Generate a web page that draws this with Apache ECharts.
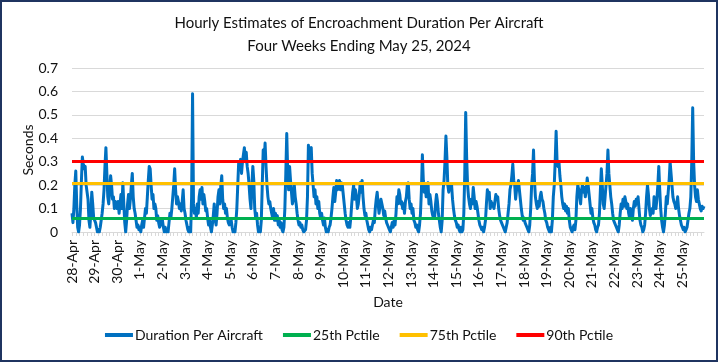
<!DOCTYPE html>
<html>
<head>
<meta charset="utf-8">
<script src="https://cdn.jsdelivr.net/npm/echarts@6/dist/echarts.min.js"></script>
<style>
  html, body { margin: 0; padding: 0; background: #fff; }
  #wrap { position: relative; width: 718px; height: 362px; }
  #chart { position: absolute; left: 0; top: 0; width: 718px; height: 362px; }
  #frame { position: absolute; left: 0; top: 0; width: 718px; height: 362px; box-sizing: border-box; border: 2px solid #1f3460; pointer-events: none; }
</style>
</head>
<body>
<div id="wrap"><div id="chart"></div><div id="frame"></div></div>
<script>
const titleLines = ['Hourly Estimates of Encroachment Duration Per Aircraft', 'Four Weeks Ending May 25, 2024'];
const days = ['28-Apr','29-Apr','30-Apr','1-May','2-May','3-May','4-May','5-May','6-May','7-May','8-May','9-May','10-May','11-May','12-May','13-May','14-May','15-May','16-May','17-May','18-May','19-May','20-May','21-May','22-May','23-May','24-May','25-May'];
const hoursOfDay = ['00','01','02','03','04','05','06','07','08','09','10','11','12','13','14','15','16','17','18','19','20','21','22','23'];
// hourly values, one line per day (hours 0-23)
const duration = [
  0.08,0.04,0.10,0.20,0.26,0.12,0.02,0.00,0.03,0.10,0.22,0.32,0.29,0.27,0.28,0.20,0.17,0.14,0.05,0.02,0.08,0.17,0.12,0.06,
  0.06,0.04,0.02,0.00,0.01,0.00,0.02,0.05,0.08,0.12,0.18,0.28,0.36,0.25,0.15,0.12,0.18,0.24,0.20,0.14,0.15,0.10,0.13,0.11,
  0.10,0.13,0.08,0.12,0.16,0.10,0.21,0.12,0.04,0.00,0.05,0.12,0.16,0.10,0.14,0.20,0.25,0.15,0.10,0.08,0.05,0.02,0.03,0.01,
  0.02,0.00,0.03,0.05,0.02,0.06,0.10,0.08,0.15,0.22,0.28,0.27,0.20,0.14,0.16,0.10,0.12,0.10,0.05,0.07,0.04,0.02,0.05,0.03,
  0.05,0.02,0.00,0.02,0.00,0.01,0.00,0.04,0.08,0.06,0.10,0.15,0.20,0.27,0.18,0.12,0.15,0.13,0.10,0.12,0.09,0.13,0.18,0.10,
  0.08,0.05,0.03,0.01,0.00,0.02,0.00,0.15,0.59,0.12,0.08,0.10,0.06,0.12,0.08,0.15,0.18,0.14,0.19,0.12,0.16,0.13,0.09,0.10,
  0.06,0.03,0.05,0.02,0.00,0.03,0.07,0.12,0.05,0.03,0.08,0.15,0.18,0.12,0.20,0.24,0.14,0.10,0.12,0.08,0.10,0.06,0.04,0.03,
  0.03,0.05,0.02,0.00,0.01,0.00,0.04,0.10,0.20,0.30,0.28,0.31,0.25,0.30,0.33,0.36,0.30,0.34,0.28,0.25,0.20,0.14,0.10,0.20,
  0.28,0.22,0.10,0.06,0.08,0.03,0.00,0.01,0.00,0.05,0.20,0.35,0.30,0.38,0.28,0.20,0.15,0.12,0.13,0.10,0.08,0.06,0.10,0.05,
  0.08,0.05,0.07,0.03,0.05,0.02,0.04,0.01,0.00,0.02,0.10,0.25,0.42,0.26,0.18,0.28,0.22,0.17,0.12,0.14,0.20,0.15,0.12,0.08,
  0.05,0.03,0.04,0.02,0.03,0.01,0.00,0.00,0.01,0.05,0.15,0.37,0.30,0.35,0.36,0.25,0.20,0.15,0.18,0.12,0.15,0.10,0.13,0.08,
  0.06,0.08,0.05,0.03,0.06,0.02,0.00,0.01,0.00,0.02,0.03,0.06,0.10,0.15,0.19,0.13,0.17,0.22,0.18,0.20,0.22,0.18,0.21,0.20,
  0.16,0.12,0.08,0.05,0.03,0.02,0.04,0.02,0.06,0.12,0.17,0.20,0.14,0.18,0.15,0.10,0.12,0.16,0.21,0.17,0.22,0.15,0.10,0.07,
  0.08,0.05,0.03,0.01,0.00,0.02,0.01,0.03,0.05,0.04,0.10,0.14,0.17,0.12,0.08,0.11,0.14,0.12,0.10,0.07,0.09,0.06,0.04,0.03,
  0.03,0.01,0.00,0.02,0.04,0.02,0.05,0.03,0.08,0.15,0.12,0.18,0.16,0.12,0.13,0.10,0.12,0.08,0.13,0.15,0.20,0.21,0.14,0.10,
  0.12,0.08,0.10,0.05,0.04,0.02,0.03,0.01,0.00,0.03,0.08,0.18,0.33,0.22,0.17,0.20,0.15,0.18,0.21,0.12,0.16,0.13,0.09,0.07,
  0.08,0.06,0.12,0.16,0.13,0.08,0.05,0.02,0.00,0.05,0.18,0.22,0.30,0.41,0.32,0.20,0.17,0.20,0.18,0.20,0.14,0.10,0.07,0.05,
  0.04,0.02,0.03,0.01,0.00,0.02,0.00,0.01,0.08,0.25,0.51,0.32,0.20,0.15,0.12,0.10,0.14,0.12,0.19,0.15,0.10,0.13,0.11,0.08,
  0.05,0.03,0.02,0.01,0.02,0.00,0.02,0.05,0.12,0.18,0.15,0.17,0.10,0.13,0.11,0.12,0.10,0.13,0.16,0.14,0.15,0.10,0.07,0.05,
  0.04,0.03,0.02,0.01,0.00,0.02,0.04,0.08,0.12,0.18,0.20,0.24,0.29,0.22,0.20,0.14,0.18,0.20,0.22,0.18,0.14,0.10,0.07,0.05,
  0.06,0.04,0.03,0.02,0.01,0.00,0.03,0.10,0.20,0.25,0.35,0.22,0.15,0.12,0.10,0.13,0.11,0.15,0.17,0.14,0.13,0.10,0.08,0.05,
  0.04,0.02,0.01,0.00,0.02,0.00,0.05,0.15,0.20,0.30,0.43,0.30,0.28,0.30,0.24,0.20,0.15,0.12,0.10,0.12,0.09,0.11,0.08,0.10,
  0.05,0.02,0.01,0.00,0.02,0.03,0.01,0.05,0.15,0.20,0.18,0.15,0.12,0.18,0.20,0.17,0.19,0.15,0.18,0.23,0.20,0.16,0.12,0.08,
  0.10,0.06,0.04,0.03,0.01,0.00,0.02,0.03,0.08,0.18,0.27,0.20,0.12,0.10,0.15,0.20,0.25,0.35,0.25,0.20,0.15,0.12,0.08,0.05,
  0.04,0.03,0.02,0.01,0.00,0.03,0.08,0.12,0.10,0.14,0.11,0.15,0.13,0.10,0.12,0.08,0.06,0.10,0.07,0.05,0.10,0.13,0.11,0.14,
  0.12,0.15,0.10,0.05,0.03,0.02,0.00,0.01,0.03,0.08,0.15,0.20,0.16,0.10,0.07,0.09,0.10,0.08,0.15,0.12,0.10,0.14,0.20,0.28,
  0.18,0.10,0.05,0.02,0.00,0.03,0.08,0.15,0.12,0.17,0.22,0.30,0.25,0.20,0.15,0.13,0.12,0.10,0.12,0.15,0.10,0.07,0.05,0.03,
  0.02,0.01,0.02,0.00,0.01,0.02,0.05,0.08,0.10,0.15,0.30,0.53,0.30,0.20,0.15,0.13,0.18,0.14,0.12,0.10,0.09,0.11,0.10,0.11
];
const pctile25 = 0.057;
const pctile75 = 0.212;
const pctile90 = 0.305;
const seriesNames = ['Duration Per Aircraft', '25th Pctile', '75th Pctile', '90th Pctile'];
const seriesColors = ['#0070C0', '#00B050', '#FFC000', '#FF0000'];
const yTicks = [0, 0.1, 0.2, 0.3, 0.4, 0.5, 0.6, 0.7];

const categories = [];
days.forEach(d => hoursOfDay.forEach(h => categories.push(d + ' ' + h + ':00')));

const FONT = 'Lato';
function pctSeries(i, v) {
  return {
    name: seriesNames[i], type: 'line', data: [], symbol: 'none',
    lineStyle: { color: seriesColors[i], width: 3 }, itemStyle: { color: seriesColors[i] },
    markLine: {
      silent: true, symbol: 'none', label: { show: false },
      lineStyle: { color: seriesColors[i], width: 3, type: 'solid' },
      data: [{ yAxis: v }]
    }
  };
}

const chart = echarts.init(document.getElementById('chart'), null, { renderer: 'canvas' });
chart.setOption({
  animation: false,
  backgroundColor: '#fff',
  title: {
    text: titleLines.join('\n'), left: 'center', top: 7,
    textStyle: { fontFamily: FONT, fontSize: 15, fontWeight: 'normal', color: '#111', lineHeight: 23 }
  },
  legend: {
    bottom: 15, left: 'center', itemWidth: 28, itemHeight: 4, itemGap: 20,
    icon: 'rect',
    textStyle: { fontFamily: FONT, fontSize: 14, color: '#111', padding: [0, 0, 0, -3] },
    data: seriesNames
  },
  grid: { left: 72, right: 14, top: 68, bottom: 130, containLabel: false },
  xAxis: {
    type: 'category', data: categories, boundaryGap: false,
    name: 'Date', nameLocation: 'middle', nameGap: 63, nameMoveOverlap: false,
    nameTextStyle: { fontFamily: FONT, fontSize: 14, color: '#111' },
    axisLine: { lineStyle: { color: '#d9d9d9', width: 1 } },
    axisTick: { show: true, interval: 3, length: 4, lineStyle: { color: '#d9d9d9' } },
    axisLabel: {
      interval: 23, rotate: 90, margin: 8,
      fontFamily: FONT, fontSize: 14, color: '#111',
      formatter: v => v.split(' ')[0]
    },
    splitLine: { show: false }
  },
  yAxis: {
    type: 'value', min: yTicks[0], max: yTicks[yTicks.length - 1], interval: 0.1,
    name: 'Seconds', nameLocation: 'middle', nameGap: 37, nameMoveOverlap: false,
    nameTextStyle: { fontFamily: FONT, fontSize: 14, color: '#111' },
    axisLine: { show: false }, axisTick: { show: false },
    axisLabel: { fontFamily: FONT, fontSize: 14, color: '#111', margin: 14, formatter: v => String(+v.toFixed(1)) },
    splitLine: { lineStyle: { color: '#d9d9d9', width: 1 } }
  },
  series: [
    {
      name: seriesNames[0], type: 'line', data: duration, symbol: 'none', showSymbol: false,
      lineStyle: { color: seriesColors[0], width: 3, join: 'round' }, itemStyle: { color: seriesColors[0] }
    },
    pctSeries(1, pctile25),
    pctSeries(2, pctile75),
    pctSeries(3, pctile90)
  ]
});
</script>
</body>
</html>
